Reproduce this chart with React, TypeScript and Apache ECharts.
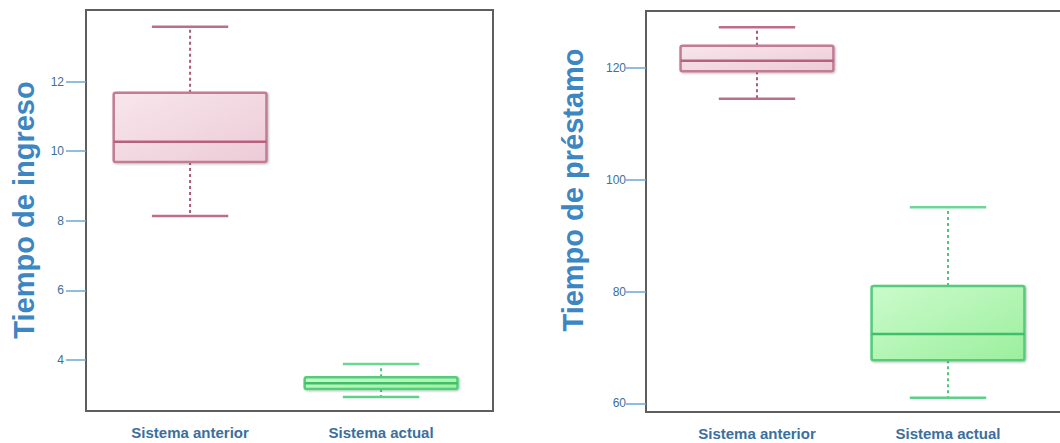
import React, { useEffect, useRef } from "react";
import * as echarts from "echarts";

const categories = ["Sistema anterior", "Sistema actual"];
// [low whisker, Q1, median, Q3, high whisker]
const ingresoStats = [
  [8.14, 9.69, 10.27, 11.68, 13.58],
  [2.93, 3.16, 3.33, 3.5, 3.88],
];
const prestamoStats = [
  [114.5, 119.4, 121.3, 124.0, 127.3],
  [61.0, 67.7, 72.4, 81.0, 95.1],
];
const ingresoTicks = [4, 6, 8, 10, 12];
const prestamoTicks = [60, 80, 100, 120];
const ingresoTitle = "Tiempo de ingreso";
const prestamoTitle = "Tiempo de préstamo";

const FONT = "'Liberation Sans', Arial, sans-serif";

const styles = [
  {
    fill: ["#f8e6ec", "#eccbd7"],
    border: "#c27b96",
    median: "#b8607f",
    whisker: "#a9587a",
    capTop: "#bd6d8b",
    capBottom: "#bd6d8b",
  },
  {
    fill: ["#cbfbcb", "#9cef9e"],
    border: "#54cc7c",
    median: "#3fbf6a",
    whisker: "#4fc57b",
    capTop: "#6fd596",
    capBottom: "#5fcf8a",
  },
];

function renderBox(params: any, api: any) {
  const idx = api.value(0);
  const low = api.value(1);
  const q1 = api.value(2);
  const med = api.value(3);
  const q3 = api.value(4);
  const high = api.value(5);
  const s = styles[idx - 1];
  const cx = api.coord([idx, med])[0];
  const bw = api.size([0.8, 0])[0];
  const cw = api.size([0.4, 0])[0];
  const yLow = api.coord([idx, low])[1];
  const yQ1 = api.coord([idx, q1])[1];
  const yMed = api.coord([idx, med])[1];
  const yQ3 = api.coord([idx, q3])[1];
  const yHigh = api.coord([idx, high])[1];
  const dashed = { stroke: s.whisker, lineWidth: 2, lineDash: [3, 3] };
  return {
    type: "group",
    children: [
      { type: "line", shape: { x1: cx, y1: yQ3, x2: cx, y2: yHigh }, style: dashed },
      { type: "line", shape: { x1: cx, y1: yQ1, x2: cx, y2: yLow }, style: dashed },
      {
        type: "line",
        shape: { x1: cx - cw / 2, y1: yHigh, x2: cx + cw / 2, y2: yHigh },
        style: { stroke: s.capTop, lineWidth: 2.5 },
      },
      {
        type: "line",
        shape: { x1: cx - cw / 2, y1: yLow, x2: cx + cw / 2, y2: yLow },
        style: { stroke: s.capBottom, lineWidth: 2.5 },
      },
      {
        type: "rect",
        shape: { x: cx - bw / 2, y: yQ3, width: bw, height: yQ1 - yQ3, r: 2 },
        style: {
          fill: new echarts.graphic.LinearGradient(0, 0, 1, 1, [
            { offset: 0, color: s.fill[0] },
            { offset: 1, color: s.fill[1] },
          ]),
          stroke: s.border,
          lineWidth: 2.5,
          shadowColor: "rgba(0,0,0,0.25)",
          shadowBlur: 2,
          shadowOffsetX: 1,
          shadowOffsetY: 1,
        },
      },
      {
        type: "line",
        shape: { x1: cx - bw / 2, y1: yMed, x2: cx + bw / 2, y2: yMed },
        style: { stroke: s.median, lineWidth: 2.5 },
      },
    ],
  };
}

export default function App() {
  const ref = useRef<HTMLDivElement>(null);
  useEffect(() => {
    if (!ref.current) return;
    const chart = echarts.init(ref.current, null, { renderer: "svg" });
    const gridBase = {
      show: true,
      borderColor: "#5e5e5e",
      borderWidth: 2,
      backgroundColor: "transparent",
      containLabel: false,
      outerBoundsMode: "none",
    };
    const xAxisBase = (gi: number, min: number, max: number) => ({
      type: "value",
      gridIndex: gi,
      min,
      max,
      axisLine: { show: false },
      axisTick: { show: false },
      splitLine: { show: false },
      axisLabel: {
        customValues: [1, 2],
        formatter: (v: number) => categories[Math.round(v) - 1] || "",
        color: "#3c6f9d",
        fontFamily: FONT,
        fontWeight: "bold",
        fontSize: 15,
        margin: 14,
      },
    });
    const yAxisBase = (gi: number, min: number, max: number, ticks: number[], margin: number) => ({
      type: "value",
      gridIndex: gi,
      min,
      max,
      axisLine: { show: false },
      splitLine: { show: false },
      axisTick: {
        show: true,
        customValues: ticks,
        length: 20,
        lineStyle: { color: "#6ea9d2", width: 1.5 },
      },
      axisLabel: {
        customValues: ticks,
        color: "#3d6f98",
        fontFamily: FONT,
        fontSize: 12,
        margin,
      },
    });
    chart.setOption({
      animation: false,
      grid: [
        { ...gridBase, left: 86, top: 10, width: 407, height: 401 },
        { ...gridBase, left: 646, top: 11, width: 430, height: 401 },
      ],
      xAxis: [xAxisBase(0, 0.455, 2.586), xAxisBase(1, 0.419, 2.67)],
      yAxis: [
        yAxisBase(0, 2.53, 14.06, ingresoTicks, 22),
        yAxisBase(1, 58.45, 130.2, prestamoTicks, 20),
      ],
      graphic: [
        {
          type: "text",
          x: 24,
          y: 210,
          rotation: Math.PI / 2,
          style: {
            text: ingresoTitle,
            fill: "#3c86c2",
            font: `bold 29px ${FONT}`,
            align: "center",
            verticalAlign: "middle",
          },
        },
        {
          type: "text",
          x: 573,
          y: 190,
          rotation: Math.PI / 2,
          style: {
            text: prestamoTitle,
            fill: "#3c86c2",
            font: `bold 29px ${FONT}`,
            align: "center",
            verticalAlign: "middle",
          },
        },
      ],
      series: [
        {
          type: "custom",
          xAxisIndex: 0,
          yAxisIndex: 0,
          renderItem: renderBox,
          encode: { x: 0, y: [1, 2, 3, 4, 5] },
          data: ingresoStats.map((d, i) => [i + 1, ...d]),
        },
        {
          type: "custom",
          xAxisIndex: 1,
          yAxisIndex: 1,
          renderItem: renderBox,
          encode: { x: 0, y: [1, 2, 3, 4, 5] },
          data: prestamoStats.map((d, i) => [i + 1, ...d]),
        },
      ],
    });
    return () => chart.dispose();
  }, []);
  return (
    <div
      ref={ref}
      style={{ position: "absolute", left: 0, top: 0, width: 1060, height: 443, background: "#fff" }}
    />
  );
}
